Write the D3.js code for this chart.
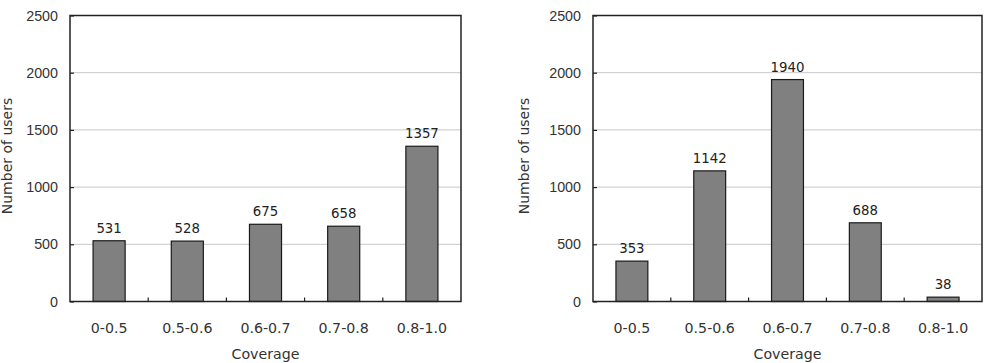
<!DOCTYPE html>
<html>
<head>
<meta charset="utf-8">
<script src="https://cdn.jsdelivr.net/npm/d3@7"></script>
<style>
  body { margin: 0; background: #fff; }
  svg { display: block; font-family: "DejaVu Sans", sans-serif; }
</style>
</head>
<body>
<div id="chart"></div>
<script>
// data
const coverage = ["0-0.5", "0.5-0.6", "0.6-0.7", "0.7-0.8", "0.8-1.0"];
const usersLeft = [531, 528, 675, 658, 1357];
const usersRight = [353, 1142, 1940, 688, 38];
const yTicks = [0, 500, 1000, 1500, 2000, 2500];

const svg = d3.select("#chart").append("svg")
    .attr("width", 991)
    .attr("height", 363);

function drawPanel(values, left, right, labelX) {
    const top = 15.5, bottom = 301.5;

    const x = d3.scaleBand()
        .domain(coverage)
        .range([left, right])
        .paddingInner(0.59)
        .paddingOuter(0.295);

    const y = d3.scaleLinear()
        .domain([0, 2500])
        .range([bottom, top]);

    const g = svg.append("g");

    // grid lines
    g.selectAll(".grid")
        .data(yTicks.slice(1, -1))
        .join("line")
        .attr("x1", left).attr("x2", right)
        .attr("y1", d => y(d)).attr("y2", d => y(d))
        .attr("stroke", "#c8c8c8")
        .attr("stroke-width", 1);

    // bars
    g.selectAll(".bar")
        .data(values)
        .join("rect")
        .attr("x", (d, i) => x(coverage[i]))
        .attr("y", d => y(d))
        .attr("width", x.bandwidth())
        .attr("height", d => bottom - y(d))
        .attr("fill", "#808080")
        .attr("stroke", "#1a1a1a")
        .attr("stroke-width", 1.2);

    // values on top
    g.selectAll(".val")
        .data(values)
        .join("text")
        .attr("x", (d, i) => x(coverage[i]) + x.bandwidth() / 2)
        .attr("y", d => y(d) - 8)
        .attr("text-anchor", "middle")
        .attr("font-size", 13.3)
        .attr("fill", "#222")
        .text(d => d);

    // y axis, ticks inward
    const axY = g.append("g")
        .attr("transform", `translate(${left},0)`)
        .call(d3.axisRight(y).tickValues(yTicks).tickSize(4).tickFormat(d3.format("d")));
    axY.select(".domain").remove();
    axY.selectAll("line").attr("stroke", "#222").attr("stroke-width", 1.2);
    axY.selectAll("text")
        .attr("x", -12)
        .attr("text-anchor", "end")
        .attr("font-size", 14.3)
        .attr("fill", "#333");

    // x axis, ticks between categories pointing up
    const step = (right - left) / coverage.length;
    g.selectAll(".xt")
        .data(coverage.slice(1))
        .join("line")
        .attr("x1", (d, i) => left + step * (i + 1))
        .attr("x2", (d, i) => left + step * (i + 1))
        .attr("y1", bottom).attr("y2", bottom - 4)
        .attr("stroke", "#222").attr("stroke-width", 1.2);

    g.selectAll(".xl")
        .data(coverage)
        .join("text")
        .attr("x", d => x(d) + x.bandwidth() / 2)
        .attr("y", 333)
        .attr("text-anchor", "middle")
        .attr("font-size", 14.2)
        .attr("fill", "#333")
        .text(d => d);

    // frame
    g.append("rect")
        .attr("x", left).attr("y", top)
        .attr("width", right - left).attr("height", bottom - top)
        .attr("fill", "none")
        .attr("stroke", "#222")
        .attr("stroke-width", 1.5);

    // axis titles
    g.append("text")
        .attr("transform", `translate(${labelX},156) rotate(-90)`)
        .attr("text-anchor", "middle")
        .attr("font-size", 14)
        .attr("fill", "#333")
        .text("Number of users");

    g.append("text")
        .attr("x", (left + right) / 2)
        .attr("y", 358.5)
        .attr("text-anchor", "middle")
        .attr("font-size", 14.2)
        .attr("fill", "#333")
        .text("Coverage");
}

drawPanel(usersLeft, 70, 461, 12);
drawPanel(usersRight, 593, 982, 529);
</script>
</body>
</html>
